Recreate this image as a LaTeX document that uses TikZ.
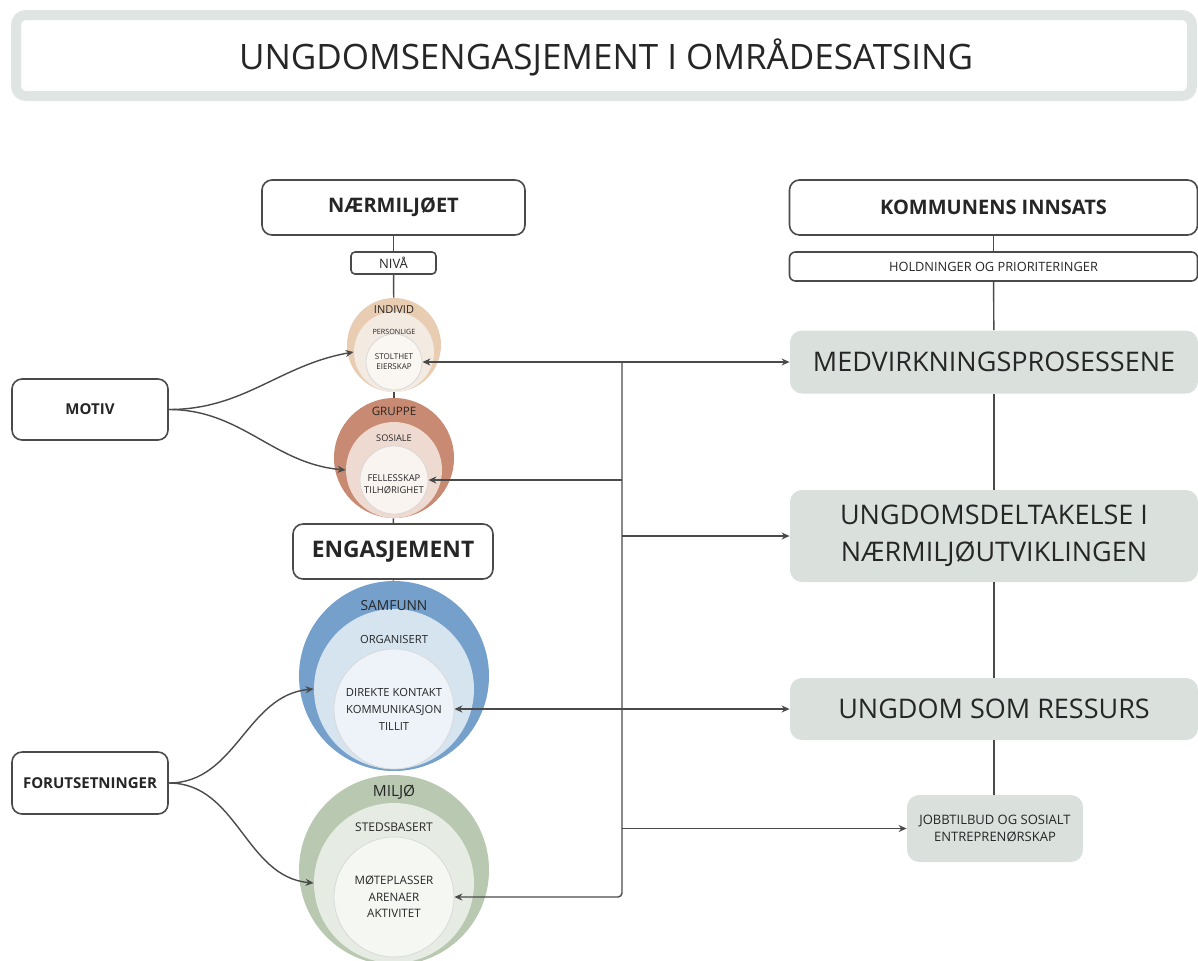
\documentclass[tikz,border=0pt]{standalone}
\usepackage{fontspec}
\setmainfont{Open Sans}
\usepackage{xcolor}
\usetikzlibrary{arrows.meta, positioning}

\definecolor{linegray}{HTML}{4A4A4A}
\definecolor{textgray}{HTML}{262626}
\definecolor{framegray}{HTML}{DFE5E2}
\definecolor{boxgray}{HTML}{DAE1DD}
\definecolor{indOut}{HTML}{E8CDB3}
\definecolor{indMid}{HTML}{F3EAE2}
\definecolor{indIn}{HTML}{FAF6F2}
\definecolor{grpOut}{HTML}{C88A72}
\definecolor{grpMid}{HTML}{EFDAD2}
\definecolor{grpIn}{HTML}{FAF4F1}
\definecolor{samOut}{HTML}{76A0CC}
\definecolor{samMid}{HTML}{D6E4F0}
\definecolor{samIn}{HTML}{EDF3F8}
\definecolor{milOut}{HTML}{B9C8B0}
\definecolor{milMid}{HTML}{E6ECE3}
\definecolor{milIn}{HTML}{F5F7F3}

\newcommand{\fsz}[2]{\fontsize{#1}{#2}\selectfont}

\begin{document}
\begin{tikzpicture}[x=0.5pt,y=-0.5pt,>={Stealth[length=4pt,width=3.5pt]},
  box/.style={draw=linegray,line width=0.8pt,rounded corners=5pt,fill=white,
    inner sep=0pt,text=textgray,align=center},
  sidebox/.style={fill=boxgray,rounded corners=6pt,inner sep=0pt,text=textgray,
    align=center,font=\fsz{13.5}{18.5}},
  ring/.style={circle,inner sep=0pt},
  core/.style={circle,inner sep=0pt,draw=black!15,line width=0.4pt},
  lbl/.style={inner sep=0pt,text=textgray,align=center},
  conn/.style={draw=linegray,line width=0.7pt}]

  \useasboundingbox (0,0) rectangle (1198,960);

  % title
  \draw[line width=5pt,draw=framegray,fill=white,rounded corners=5pt]
    (16,15) rectangle (1192,96);
  \node[lbl,font=\fsz{17.5}{21}] (title) at (606,57) {UNGDOMSENGASJEMENT I OMRÅDESATSING};

  % left column
  \node[box,minimum width=131.5pt,minimum height=27.5pt,font=\bfseries\fsz{10}{12}]
    (naer) at (393.5,207.5) {NÆRMILJØET};
  \node[box,rounded corners=2pt,minimum width=42.5pt,minimum height=11pt,font=\fsz{6.5}{8}]
    (niva) at (393.5,263) {NIVÅ};

  \node[ring,fill=indOut,minimum size=47pt] (ind) at (394,345) {};
  \node[ring,fill=indMid,minimum size=40pt] (indM) at (394,352) {};
  \node[core,fill=indIn,minimum size=28pt] (indI) at (394,362) {};
  \node[lbl,font=\fsz{5.5}{6.5}] (indT) at (394,310) {INDIVID};
  \node[lbl,font=\fsz{3.6}{4.5}] (indS) at (394,332) {PERSONLIGE};
  \node[lbl,font=\fsz{4}{5}] (indC) at (394,362) {STOLTHET\\EIERSKAP};

  \node[ring,fill=grpOut,minimum size=60pt] (grp) at (394,458) {};
  \node[ring,fill=grpMid,minimum size=48pt] (grpM) at (394,470) {};
  \node[core,fill=grpIn,minimum size=34pt] (grpI) at (394,480) {};
  \node[lbl,font=\fsz{5.8}{7}] (grpT) at (394,411) {GRUPPE};
  \node[lbl,font=\fsz{4.6}{5.5}] (grpS) at (394,438) {SOSIALE};
  \node[lbl,font=\fsz{4.7}{6}] (grpC) at (394,484) {FELLESSKAP\\TILHØRIGHET};

  \node[box,minimum width=100pt,minimum height=27.5pt,font=\bfseries\fsz{11.4}{13}]
    (eng) at (393,551.5) {ENGASJEMENT};

  \node[ring,fill=samOut,minimum size=95pt] (sam) at (394,676) {};
  \node[ring,fill=samMid,minimum size=80pt] (samM) at (394,689) {};
  \node[core,fill=samIn,minimum size=60pt] (samI) at (394,709) {};
  \node[lbl,font=\fsz{6.9}{8}] (samT) at (394,606) {SAMFUNN};
  \node[lbl,font=\fsz{5.6}{7}] (samS) at (394,639) {ORGANISERT};
  \node[lbl,font=\fsz{5.6}{8.5}] (samC) at (394,709) {DIREKTE KONTAKT\\KOMMUNIKASJON\\TILLIT};

  \node[ring,fill=milOut,minimum size=95pt] (mil) at (394,870) {};
  \node[ring,fill=milMid,minimum size=80pt] (milM) at (394,883) {};
  \node[core,fill=milIn,minimum size=60pt] (milI) at (394,897) {};
  \node[lbl,font=\fsz{7.7}{9}] (milT) at (394,792) {MILJØ};
  \node[lbl,font=\fsz{6}{7}] (milS) at (394,827) {STEDSBASERT};
  \node[lbl,font=\fsz{5.8}{8.3}] (milC) at (394,897) {MØTEPLASSER\\ARENAER\\AKTIVITET};

  \draw[conn] (naer) -- (niva);
  \draw[conn] (niva) -- (ind);
  \draw[conn] (ind) -- (grp);
  \draw[conn] (grp) -- (eng);
  \draw[conn] (eng) -- (sam);

  % motiv / forutsetninger
  \node[box,minimum width=78pt,minimum height=30.5pt,font=\bfseries\fsz{7.5}{9}]
    (motiv) at (90,409.5) {MOTIV};
  \node[box,minimum width=78pt,minimum height=31pt,font=\bfseries\fsz{7.5}{9}]
    (forut) at (90,783) {FORUTSETNINGER};

  \draw[conn,->] (motiv.east) to[out=0,in=190] (indM.west);
  \draw[conn,->] (motiv.east) to[out=0,in=175] (grpM.west);
  \draw[conn,->] (forut.east) to[out=0,in=185] (samM.west);
  \draw[conn,->] (forut.east) to[out=0,in=175] (milM.west);

  % right column
  \node[box,minimum width=204pt,minimum height=27.5pt,font=\bfseries\fsz{10}{12}]
    (kom) at (993.5,207.5) {KOMMUNENS INNSATS};
  \node[box,rounded corners=3pt,minimum width=204pt,minimum height=14.5pt,font=\fsz{6.4}{8}]
    (hold) at (993.5,266.5) {HOLDNINGER OG PRIORITERINGER};
  \node[sidebox,minimum width=204pt,minimum height=31.5pt]
    (medv) at (994,362) {MEDVIRKNINGSPROSESSENE};
  \node[sidebox,minimum width=204pt,minimum height=46pt]
    (delt) at (994,536) {UNGDOMSDELTAKELSE I\\NÆRMILJØUTVIKLINGEN};
  \node[sidebox,minimum width=204pt,minimum height=31pt]
    (ress) at (994,709) {UNGDOM SOM RESSURS};
  \node[sidebox,minimum width=88pt,minimum height=33.5pt,font=\fsz{6.5}{8.5}]
    (jobb) at (995,828.5) {JOBBTILBUD OG SOSIALT\\ENTREPRENØRSKAP};

  \draw[conn] (kom) -- (hold);
  \draw[conn] (hold) -- (medv);
  \draw[conn] (medv) -- (delt);
  \draw[conn] (delt) -- (ress);
  \draw[conn] (ress.south) -- (ress.south |- jobb.north);

  % links between the columns
  \coordinate (bustop) at (622,362);
  \coordinate (busbot) at (622,897);
  \draw[conn,<->] (indI.east) -- (medv.west);
  \draw[conn,<->] (samI.east) -- (ress.west);
  \draw[conn,->,rounded corners=2pt] (bustop) -- (busbot) -- (milI.east);
  \draw[conn,->] (bustop |- grpI.east) -- (grpI.east);
  \draw[conn,->] (bustop |- delt.west) -- (delt.west);
  \draw[conn,->] (bustop |- jobb.west) -- (jobb.west);
\end{tikzpicture}
\end{document}
